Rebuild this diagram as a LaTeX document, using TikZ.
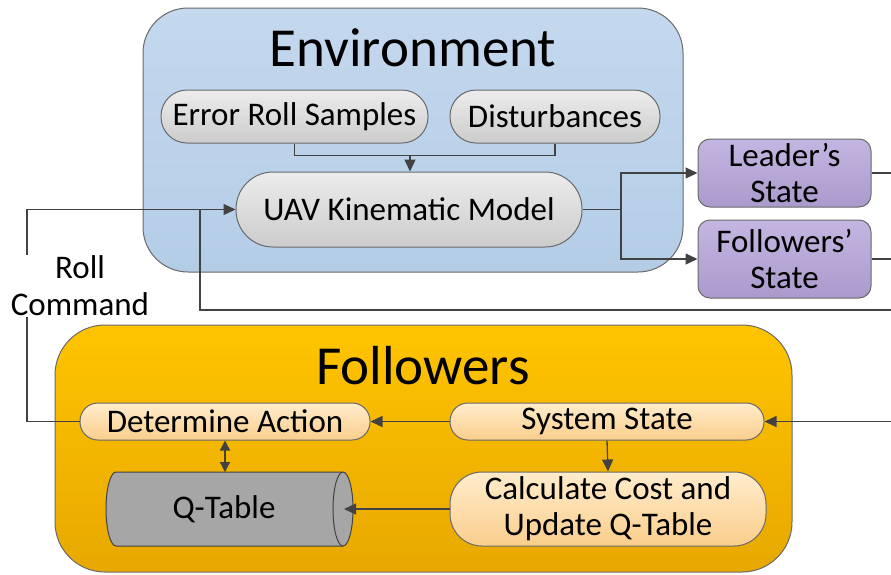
\documentclass[tikz,border=0pt]{standalone}
\usepackage{fontspec}
\setmainfont{Carlito}
\usetikzlibrary{arrows.meta}
\definecolor{ln}{RGB}{66,66,66}
\definecolor{bd}{RGB}{105,105,105}
\definecolor{envtop}{RGB}{196,216,238}
\definecolor{envbot}{RGB}{180,205,231}
\definecolor{foltop}{RGB}{255,196,0}
\definecolor{folbot}{RGB}{232,168,0}
\definecolor{graytop}{RGB}{236,236,236}
\definecolor{graybot}{RGB}{204,204,204}
\definecolor{purtop}{RGB}{196,182,226}
\definecolor{purbot}{RGB}{170,154,204}
\definecolor{ortop}{RGB}{255,236,204}
\definecolor{orbot}{RGB}{250,206,140}
\definecolor{qgray}{RGB}{166,166,166}
\tikzset{
  nfont/.style={font=\fontsize{33}{36}\selectfont},
  tfont/.style={font=\fontsize{55}{60}\selectfont},
  graypill/.style={draw=bd, line width=1pt, top color=graytop, bottom color=graybot, nfont, inner sep=0pt, align=center},
  purbox/.style={draw=bd, line width=1pt, top color=purtop, bottom color=purbot, nfont, inner sep=0pt, align=center, rounded corners=12pt, minimum width=173pt},
  orpill/.style={draw=bd, line width=1pt, top color=ortop, bottom color=orbot, nfont, inner sep=0pt, align=center},
  conn/.style={draw=ln, line width=1.3pt},
  arr/.style={conn, -{Triangle[length=12pt,width=11pt]}},
  darr/.style={conn, {Triangle[length=10pt,width=10pt]}-{Triangle[length=10pt,width=10pt]}},
}
\begin{document}
\begin{tikzpicture}[x=1pt,y=-1pt]
\useasboundingbox (0,0) rectangle (891,574);
% containers
\draw[draw=bd, line width=1pt, top color=envtop, bottom color=envbot, rounded corners=45pt] (143,8) rectangle (683,272);
\node[tfont] (envt) at (413,48) {Environment};
\draw[draw=bd, line width=1pt, top color=foltop, bottom color=folbot, rounded corners=50pt] (55,325) rectangle (792,572);
\node[tfont] (folt) at (423,366) {Followers};
% environment nodes
\node[graypill, minimum width=267pt, minimum height=53pt, rounded corners=26pt] (err) at (294.5,116.5) {Error Roll Samples};
\node[graypill, minimum width=210pt, minimum height=53pt, rounded corners=26pt] (dist) at (555,116.5) {Disturbances};
\node[graypill, minimum width=346pt, minimum height=75pt, rounded corners=37pt] (uav) at (409,209.5) {UAV Kinematic Model};
\node[purbox, minimum height=68pt] (lead) at (784.5,173) {Leader’s\\State};
\node[purbox, minimum height=78pt] (foll) at (784.5,259) {Followers’\\State};
% followers nodes
\node[orpill, minimum width=290pt, minimum height=37pt, rounded corners=18pt] (da) at (225,421.5) {Determine Action};
\node[orpill, minimum width=314pt, minimum height=37pt, rounded corners=18pt] (ss) at (607,421.5) {System State};
\node[orpill, minimum width=316pt, minimum height=74pt, rounded corners=32pt] (calc) at (608,509) {Calculate Cost and\\Update Q-Table};
% Q-table cylinder
\draw[draw=ln, line width=1pt, fill=qgray]
  (116,472) -- (343,472)
  .. controls (348.52,472) and (353,488.6) .. (353,509)
  .. controls (353,529.4) and (348.52,546) .. (343,546)
  -- (116,546)
  .. controls (110.48,546) and (106,529.4) .. (106,509)
  .. controls (106,488.6) and (110.48,472) .. (116,472) -- cycle;
\draw[draw=ln, line width=1pt] (343,472)
  .. controls (337.48,472) and (333,488.6) .. (333,509)
  .. controls (333,529.4) and (337.48,546) .. (343,546);
\node[nfont] (qt) at (224,509) {Q-Table};
% coordinates
\coordinate (mid) at (410,155);
\coordinate (br) at (621,209.5);
\coordinate (R) at (891,0);
\coordinate (fb) at (891,310);
\coordinate (j) at (200,209.5);
\coordinate (c1) at (27,421.5);
\coordinate (c2) at (27,209.5);
\coordinate (fin) at (891,421.5);
\coordinate (qin) at (344,509);
\coordinate (qtop) at (225,472);
% connectors
\draw[conn] (err.south) -- ++(0,12) -| (dist.south);
\draw[arr] (mid) -- (mid |- uav.north);
\draw[conn] (uav.east) -- (br);
\draw[arr] (br) |- (lead.west);
\draw[arr] (br) |- (foll.west);
\draw[conn] (lead.east) -- (lead.east -| R);
\draw[conn] (foll.east) -- (foll.east -| R);
\draw[conn] (fb) -| (j);
\draw[arr] (da.west) -- (c1) -- (c2) -- (uav.west);
\draw[arr] (fin) -- (ss.east);
\draw[arr] (ss.west) -- (da.east);
\draw[arr] (ss.south) -- (calc.north);
\draw[arr] (calc.west) -- (qin);
\draw[darr] (da.south) -- (qtop);
% label
\node[fill=white, align=center, inner sep=1pt, font=\fontsize{33}{37}\selectfont] (rl) at (80,286) {Roll\\Command};
\end{tikzpicture}
\end{document}
